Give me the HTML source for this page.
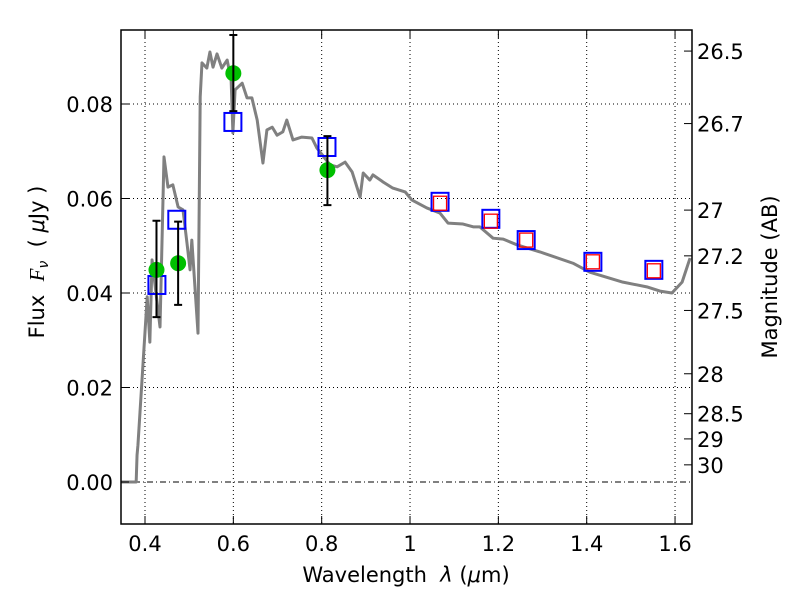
<!DOCTYPE html>
<html><head><meta charset="utf-8"><style>
body{margin:0;background:#fff}
svg text{font-family:"DejaVu Sans","Liberation Sans",sans-serif;fill:#000}
</style></head><body>
<svg id="chart" width="800" height="600" xmlns="http://www.w3.org/2000/svg">
<g id="grid"></g>
<g id="spec"></g>
<g id="marks"></g>
<rect x="121" y="30" width="571" height="494" fill="none" stroke="#000" stroke-width="1.5"/>
<g id="ticks"></g>
<text x="406" y="582" font-size="21" text-anchor="middle">Wavelength&#160;&#160;<tspan font-style="italic">λ</tspan> (<tspan font-style="italic">μ</tspan>m)</text>
<text transform="translate(44,262) rotate(-90)" font-size="21" text-anchor="middle">Flux&#160;&#160;<tspan font-style="italic" font-family="Liberation Serif">F</tspan><tspan font-style="italic" font-size="14" dy="4">ν</tspan><tspan dy="-4">&#160;&#160;( </tspan><tspan font-style="italic">μ</tspan>Jy )</text>
<text transform="translate(777,277) rotate(-90)" font-size="21" text-anchor="middle">Magnitude (AB)</text>
</svg>
<script>
const specWave=[0.346,0.380,0.382,0.384,0.405,0.411,0.416,0.434,0.443,0.452,0.463,0.475,0.486,0.495,0.502,0.506,0.520,0.525,0.529,0.540,0.547,0.554,0.563,0.574,0.586,0.595,0.599,0.604,0.620,0.631,0.642,0.654,0.667,0.676,0.688,0.699,0.712,0.721,0.735,0.755,0.778,0.789,0.819,0.835,0.853,0.869,0.887,0.894,0.909,0.916,0.939,0.961,0.989,1.004,1.038,1.068,1.086,1.120,1.143,1.158,1.188,1.211,1.242,1.294,1.369,1.407,1.482,1.536,1.566,1.593,1.616,1.634];
const specFlux=[0,0,0.0057,0.0078,0.0392,0.0296,0.0470,0.0328,0.0688,0.0624,0.0629,0.0582,0.0576,0.0506,0.0449,0.0512,0.0315,0.0815,0.0887,0.0876,0.0910,0.0878,0.0906,0.0876,0.0893,0.0851,0.0739,0.0830,0.0844,0.0813,0.0813,0.0766,0.0675,0.0745,0.0751,0.0734,0.0741,0.0766,0.0724,0.0730,0.0728,0.0707,0.0671,0.0667,0.0677,0.0656,0.0603,0.0654,0.0639,0.0650,0.0635,0.0622,0.0614,0.0597,0.0580,0.0569,0.0548,0.0546,0.0540,0.0540,0.0516,0.0514,0.0502,0.0487,0.0463,0.0444,0.0423,0.0413,0.0404,0.0400,0.0423,0.0474];
const obsWave=[0.426,0.475,0.600,0.813];
const obsFlux=[0.0449,0.0463,0.0865,0.0660];
const obsErrHi=[0.0553,0.0551,0.0946,0.0732];
const obsErrLo=[0.0349,0.0375,0.0785,0.0586];
const modelWave=[0.427,0.472,0.599,0.812,1.068,1.183,1.263,1.414,1.552];
const modelFlux=[0.0417,0.0555,0.0762,0.0709,0.0593,0.0557,0.0512,0.0466,0.0449];
const redWave=[1.068,1.183,1.263,1.414,1.552];
const redFlux=[0.0590,0.0552,0.0512,0.0466,0.0447];
const xTicks=[0.4,0.6,0.8,1.0,1.2,1.4,1.6];
const xTickLabels=["0.4","0.6","0.8","1","1.2","1.4","1.6"];
const yTicks=[0,0.02,0.04,0.06,0.08];
const yTickLabels=["0.00","0.02","0.04","0.06","0.08"];
const magTicks=[26.5,26.7,27,27.2,27.5,28,28.5,29,30];
const magLabels=["26.5","26.7","27","27.2","27.5","28","28.5","29","30"];

const X=v=>145+(v-0.4)*441.7;
const Y=v=>482-v*4725;
const NS="http://www.w3.org/2000/svg";
function mk(tag,parent,attrs){const e=document.createElementNS(NS,tag);for(const k in attrs)e.setAttribute(k,attrs[k]);parent.appendChild(e);return e;}
const grid=document.getElementById('grid'),ticks=document.getElementById('ticks'),spec=document.getElementById('spec'),marks=document.getElementById('marks');

xTicks.forEach((t,i)=>{
  const g=mk('line',grid,{x1:X(t),x2:X(t),y1:30,y2:524,stroke:'#000','stroke-width':1,'stroke-dasharray':'1,3'});
  
  
  mk('line',ticks,{x1:X(t),x2:X(t),y1:524,y2:516,stroke:'#000'});
  mk('line',ticks,{x1:X(t),x2:X(t),y1:30,y2:38,stroke:'#000'});
  const tx=mk('text',ticks,{x:X(t),y:551,'font-size':21,'text-anchor':'middle'});
  tx.textContent=xTickLabels[i];
  
  
});
yTicks.forEach((t,i)=>{
  if(t!==0){const g=mk('line',grid,{x1:121,x2:692,y1:Y(t),y2:Y(t),stroke:'#000','stroke-width':1,'stroke-dasharray':'1,3'});
  
  }
  mk('line',ticks,{x1:121,x2:129,y1:Y(t),y2:Y(t),stroke:'#000'});
  const tx=mk('text',ticks,{x:113,y:Y(t)+8,'font-size':21,'text-anchor':'end'});
  tx.textContent=yTickLabels[i];
  
  
});
const zl=mk('line',grid,{x1:121,x2:692,y1:Y(0),y2:Y(0),stroke:'#000','stroke-width':1,'stroke-dasharray':'6,3,1,3'});


magTicks.forEach((m,i)=>{
  const f=Math.pow(10,(23.9-m)/2.5);
  mk('line',ticks,{x1:692,x2:684,y1:Y(f),y2:Y(f),stroke:'#000'});
  const tx=mk('text',ticks,{x:697,y:Y(f)+8,'font-size':21});
  tx.textContent=magLabels[i];
  
  
});
const sp=mk('polyline',spec,{points:specWave.map((w,i)=>X(w)+','+Y(specFlux[i])).join(' '),fill:'none',stroke:'#808080','stroke-width':3,'stroke-linejoin':'round'});


modelWave.forEach((w,i)=>{
  const r=mk('rect',marks,{x:X(w)-8.5,y:Y(modelFlux[i])-9,width:17,height:18,fill:'none',stroke:'#0000ff','stroke-width':2});
  
  
});
redWave.forEach((w,i)=>{
  const r=mk('rect',marks,{x:X(w)-6.5,y:Y(redFlux[i])-7,width:13,height:14,fill:'none',stroke:'#ff0000','stroke-width':1.3});
  
  
});
obsWave.forEach((w,i)=>{
  const c=mk('circle',marks,{cx:X(w),cy:Y(obsFlux[i]),r:8,fill:'#00c000'});
  
  
  const x=X(w),a=Y(obsErrHi[i]),b=Y(obsErrLo[i]);
  const e=mk('path',marks,{d:`M${x},${a}V${b}M${x-4},${a}H${x+4}M${x-4},${b}H${x+4}`,stroke:'#000','stroke-width':2,fill:'none'});
  
  
});
</script>
</body></html>
